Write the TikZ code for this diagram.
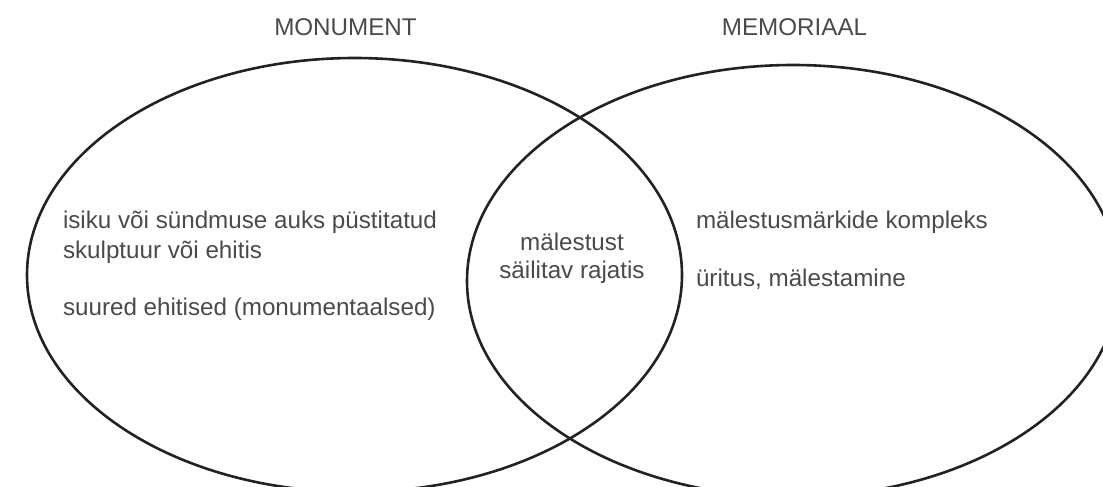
\documentclass[tikz,border=0pt]{standalone}
\usepackage{fontspec}
\setmainfont{Liberation Sans}
\usetikzlibrary{shapes.geometric}
\definecolor{ringcol}{HTML}{222222}
\definecolor{txtcol}{HTML}{4A4A4A}
\tikzset{
  ring/.style={ellipse, draw=ringcol, line width=2.6pt, inner sep=0pt, outer sep=0pt},
  lbl/.style={inner sep=0pt, outer sep=0pt, text=txtcol, font=\fontsize{24.2}{30}\selectfont},
}
\begin{document}
\begin{tikzpicture}[x=1pt,y=-1pt]
\useasboundingbox (0,0) rectangle (1103,487);
\clip (0,0) rectangle (1103,487);
\node[ring, minimum width=655pt, minimum height=434pt] (monument) at (354.5,275) {};
\node[ring, minimum width=652pt, minimum height=432pt] (memoriaal) at (793,281) {};
\node[lbl, anchor=base] (t1) at (345.5,36) {MONUMENT};
\node[lbl, anchor=base] (t2) at (794.5,36) {MEMORIAAL};
\node[lbl, anchor=base west] (l1) at (63,228) {isiku või sündmuse auks püstitatud};
\node[lbl, anchor=base west] (l2) at (63,258) {skulptuur või ehitis};
\node[lbl, anchor=base west] (l3) at (63,315) {suured ehitised (monumentaalsed)};
\node[lbl, anchor=base] (m1) at (572,250) {mälestust};
\node[lbl, anchor=base] (m2) at (572,278) {säilitav rajatis};
\node[lbl, anchor=base west] (r1) at (696,228) {mälestusmärkide kompleks};
\node[lbl, anchor=base west] (r2) at (696,286) {üritus, mälestamine};
\end{tikzpicture}
\end{document}
